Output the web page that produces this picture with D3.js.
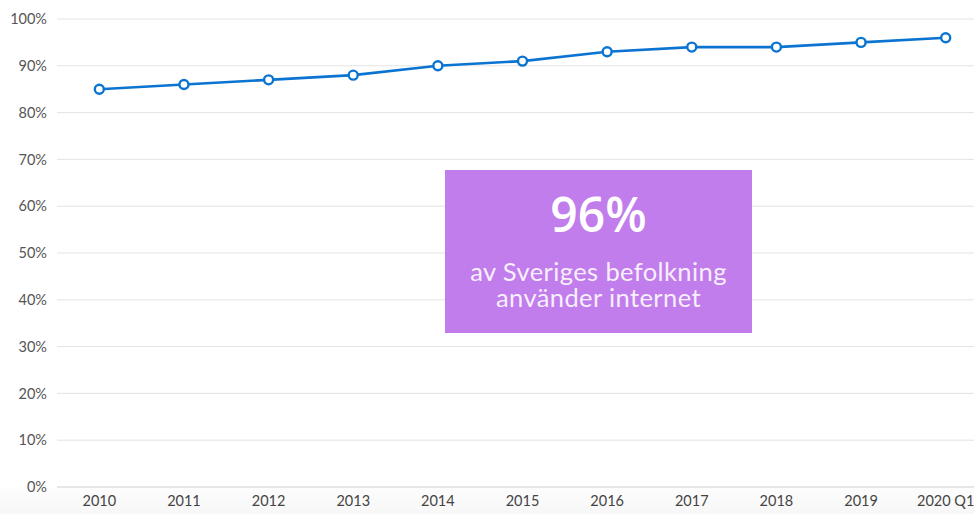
<!DOCTYPE html>
<html><head><meta charset="utf-8">
<script src="https://cdn.jsdelivr.net/npm/d3@7"></script>
<style>body{margin:0;background:#fff;}svg{display:block;}</style>
</head><body>
<svg id="c" width="974" height="514"></svg>
<script>
const categories = ["2010","2011","2012","2013","2014","2015","2016","2017","2018","2019","2020 Q1"];
const values = [85,86,87,88,90,91,93,94,94,95,96];
const yTicks = [0,10,20,30,40,50,60,70,80,90,100];
const calloutBig = "96%";
const calloutLines = ["av Sveriges befolkning","använder internet"];

const svg = d3.select("#c");
const W = 974, H = 514;
const defs = svg.append("defs");
const grad = defs.append("linearGradient").attr("id","bg").attr("x1",0).attr("y1",0).attr("x2",0).attr("y2",1);
grad.append("stop").attr("offset","0%").attr("stop-color","#fdfdfd");
grad.append("stop").attr("offset","100%").attr("stop-color","#f7f7f7");
svg.append("rect").attr("x",0).attr("y",487).attr("width",W).attr("height",H-487).attr("fill","url(#bg)");

const x = d3.scaleBand().domain(categories).range([57, 988]);
const y = d3.scaleLinear().domain([0,100]).range([487, 19]);

// gridlines
svg.append("g").selectAll("line").data(yTicks).join("line")
  .attr("x1",57).attr("x2",W).attr("y1",d=>y(d)).attr("y2",d=>y(d))
  .attr("stroke",d=>d===0?"#cfcfcf":"#e3e3e3").attr("stroke-width",1);

// y axis labels
const yAxis = svg.append("g").attr("transform","translate(47,0)")
  .call(d3.axisLeft(y).tickValues(yTicks).tickFormat(d=>d+"%").tickSize(0).tickPadding(0));
yAxis.select(".domain").remove();
yAxis.selectAll("text").attr("fill","#555").style("font-family","Lato, 'Liberation Sans', sans-serif").style("font-size","14.5px");

// x axis labels
const xAxis = svg.append("g").attr("transform","translate(0,496)")
  .call(d3.axisBottom(x).tickSize(0).tickPadding(0));
xAxis.select(".domain").remove();
xAxis.selectAll("text").attr("fill","#444").attr("dy","0.71em").style("font-family","Lato, 'Liberation Sans', sans-serif").style("font-size","14.5px");

// callout box
svg.append("rect").attr("x",445).attr("y",170).attr("width",307).attr("height",163).attr("fill","#c17deb");
svg.append("text").attr("x",598.5).attr("y",232).attr("text-anchor","middle")
  .attr("fill","#fff").style("font-family","'Open Sans', sans-serif").style("font-weight","600").style("font-size","48px").text(calloutBig);
const sub = svg.append("text").attr("text-anchor","middle")
  .attr("fill","#f7effd").style("font-family","Lato, sans-serif").style("font-weight","400")
  .style("font-size","25.5px").style("letter-spacing","0.4px");
sub.selectAll("tspan").data(calloutLines).join("tspan")
  .attr("x",598.5).attr("y",(d,i)=>281+i*26).text(d=>d);

// line
const cx = (d,i)=>x(categories[i])+x.bandwidth()/2;
svg.append("path").datum(values)
  .attr("fill","none").attr("stroke","#0b74d1").attr("stroke-width",2.6)
  .attr("d", d3.line().x((d,i)=>cx(d,i)).y(d=>y(d)));
svg.append("g").selectAll("circle").data(values).join("circle")
  .attr("cx",(d,i)=>cx(d,i)).attr("cy",d=>y(d)).attr("r",4.5)
  .attr("fill","#fff").attr("stroke","#0b74d1").attr("stroke-width",2.4);
</script>
</body></html>
